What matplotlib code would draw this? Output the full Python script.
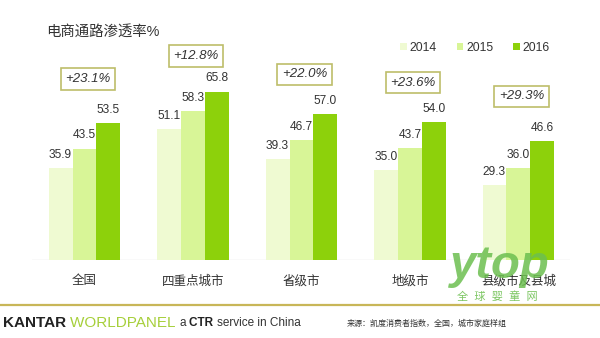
import numpy as np
import matplotlib
matplotlib.use("Agg")
import matplotlib.pyplot as plt
from matplotlib.patches import Patch

plt.rcParams['font.family'] = ['Liberation Sans', 'Noto Sans CJK SC', 'DejaVu Sans']

# penetration rate of e-commerce channel, by city tier
categories = ['全国', '四重点城市', '省级市', '地级市', '县级市及县城']
years = ['2014', '2015', '2016']
v2014 = [35.9, 51.1, 39.3, 35.0, 29.3]
v2015 = [43.5, 58.3, 46.7, 43.7, 36.0]
v2016 = [53.5, 65.8, 57.0, 54.0, 46.6]
growth = ['+23.1%', '+12.8%', '+22.0%', '+23.6%', '+29.3%']

colors = ['#effad2', '#d8f597', '#8dd10b']
box_gap = [17.2, 13.9, 15.5, 15.3, 17.3]   # callout height above tallest bar

fig = plt.figure(figsize=(6, 3.38), dpi=100)
ax = fig.add_axes([32 / 600, 78 / 338, 538 / 600, 230.4 / 338])

x = np.arange(len(categories))
w = 0.221
series = [v2014, v2015, v2016]
for j, vals in enumerate(series):
    xs = x + (j - 1) * w
    ax.bar(xs, vals, width=w, color=colors[j], linewidth=0, zorder=2)
    for xi, v in zip(xs, vals):
        ax.annotate(f'{v:.1f}', (xi, v), xytext=(0, 9.5), textcoords='offset points',
                    ha='center', va='center', fontsize=8.6, color='#333333')

for i, g in enumerate(growth):
    top = max(s[i] for s in series)
    ax.text(x[i] + 0.03, top + box_gap[i], g, ha='center', va='center',
            fontsize=9.5, style='italic', color='#333333',
            bbox=dict(boxstyle='square,pad=0.35', fc='white', ec='#bdbd6a', lw=1.2))

ax.axhline(0, color='#e4e4e4', lw=1, zorder=1)
ax.set_xlim(-0.484, 4.475)
ax.set_ylim(0, 90)
ax.set_xticks(x)
ax.set_xticklabels(categories, fontsize=9, color='#333333')
ax.tick_params(axis='x', length=0, pad=11)
ax.set_yticks([])
for s in ax.spines.values():
    s.set_visible(False)

fig.text(46 / 600, 1 - 32 / 338, '电商通路渗透率%', fontsize=10.4, color='#333333',
         va='center', ha='left')

handles = [Patch(facecolor=c, edgecolor='none') for c in colors]
fig.legend(handles, years, loc='center left', bbox_to_anchor=(394 / 600, 1 - 48 / 338),
           ncol=3, frameon=False, fontsize=8.8, handlelength=0.55, handleheight=0.55,
           handletextpad=0.25, columnspacing=1.6, borderpad=0, labelcolor='#333333')

# site watermark
fig.text(500 / 600, 1 - 266 / 338, 'ytop', fontsize=34, fontweight='bold', style='italic',
         color='#6cbf50', alpha=0.85, ha='center', va='center', zorder=5)
fig.text(497 / 600, 1 - 297 / 338, '全  球  婴  童  网', fontsize=8, color='#7cc662',
         ha='center', va='center', zorder=5)

# footer
fig.add_artist(plt.Line2D([0, 1], [1 - 305 / 338] * 2, color='#c8b658', lw=1.6,
                          transform=fig.transFigure))
prev = fig.text(3 / 600, 1 - 323 / 338, 'KANTAR ', fontsize=11, fontweight='bold',
                color='#222222', va='center')
parts = [('WORLDPANEL ', 'normal', '#a6cf3a', 11),
         ('a ', 'normal', '#333333', 8.5),
         ('CTR ', 'bold', '#222222', 8.5),
         ('service in China', 'normal', '#333333', 8.5)]
for txt, wt, col, fs in parts:
    prev = ax.annotate(txt, xy=(1, 0.5), xycoords=prev, va='center', ha='left',
                       fontsize=fs, fontweight=wt, color=col, annotation_clip=False)
fig.text(347 / 600, 1 - 324 / 338, '来源：凯度消费者指数，全国，城市家庭样组', fontsize=5.8,
         color='#333333', va='center')

fig.savefig('out.png', dpi=100)
